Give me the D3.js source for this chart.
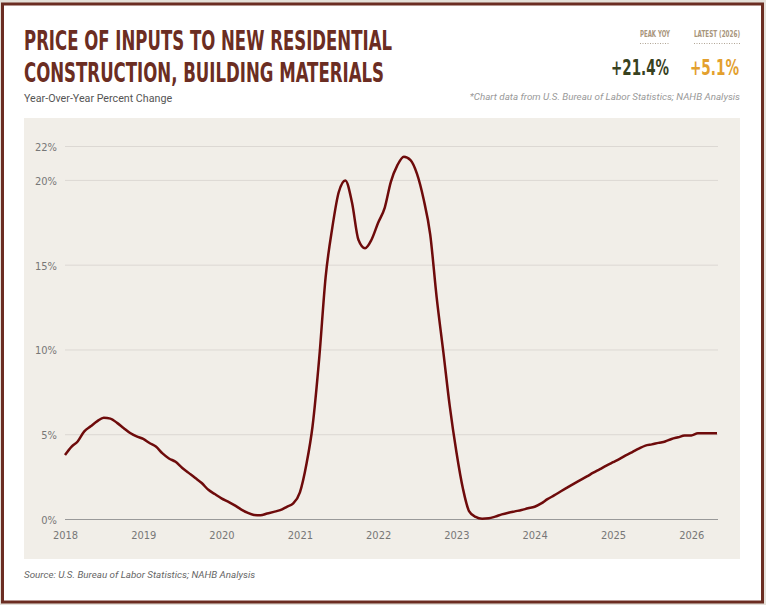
<!DOCTYPE html>
<html>
<head>
<meta charset="utf-8">
<script src="https://cdn.jsdelivr.net/npm/d3@7"></script>
<style>
  html, body { margin: 0; padding: 0; background: #e4e0d9; }
  svg { display: block; }
</style>
</head>
<body>
<div id="viz"></div>
<script>
// Monthly year-over-year change, Jan 2018 .. May 2026
var startMonth = "2018-01";
var yoyValues = [
  3.8, 4.3, 4.6, 5.2, 5.5, 5.8, 6.0, 5.95, 5.7, 5.4, 5.1, 4.9,      // 2018
  4.75, 4.5, 4.3, 3.9, 3.6, 3.4, 3.05, 2.75, 2.45, 2.15, 1.75, 1.5, // 2019
  1.25, 1.05, 0.85, 0.6, 0.4, 0.27, 0.25, 0.35, 0.45, 0.55, 0.75, 0.95, // 2020
  1.6, 3.3, 5.5, 9.5, 14.3, 17.2, 19.3, 20.0, 18.7, 16.5, 16.0, 16.5, // 2021
  17.5, 18.4, 19.9, 20.9, 21.4, 21.2, 20.4, 18.9, 16.8, 13.1, 9.9, 6.7, // 2022
  4.0, 1.8, 0.5, 0.15, 0.05, 0.07, 0.17, 0.3, 0.4, 0.48, 0.56, 0.66, // 2023
  0.75, 0.95, 1.2, 1.42, 1.65, 1.88, 2.1, 2.32, 2.54, 2.76, 2.97, 3.18, // 2024
  3.38, 3.58, 3.78, 3.98, 4.18, 4.36, 4.43, 4.52, 4.6, 4.75, 4.85, 4.95, // 2025
  4.96, 5.08, 5.08, 5.08, 5.08                                       // 2026
];
var yTicks = [0, 5, 10, 15, 20, 22];
var xTickYears = [2018, 2019, 2020, 2021, 2022, 2023, 2024, 2025, 2026];
var statLabels = ["PEAK YOY", "LATEST (2026)"];
var statValues = ["+21.4%", "+5.1%"];

var W = 766, H = 605;
var narrow = "'DejaVu Sans Condensed', 'Liberation Sans Narrow', sans-serif";
var body = "Roboto, 'Noto Sans', sans-serif";

var parseMonth = d3.timeParse("%Y-%m");
var t0 = parseMonth(startMonth);
var data = yoyValues.map(function(v, i) {
  return {date: d3.timeMonth.offset(t0, i), value: v};
});

var svg = d3.select("#viz").append("svg")
  .attr("width", W).attr("height", H);

// card + border
svg.append("rect")
  .attr("x", 2.5).attr("y", 4).attr("width", 760).attr("height", 598)
  .attr("fill", "#fff").attr("stroke", "#6b2d22").attr("stroke-width", 3);

// title
var title = svg.append("text")
  .attr("font-family", narrow).attr("font-weight", "bold")
  .attr("font-size", 26).attr("fill", "#6b2d22");
title.append("tspan").attr("x", 24).attr("y", 50)
  .attr("textLength", 368).attr("lengthAdjust", "spacingAndGlyphs")
  .text("PRICE OF INPUTS TO NEW RESIDENTIAL");
title.append("tspan").attr("x", 24).attr("y", 82)
  .attr("textLength", 360).attr("lengthAdjust", "spacingAndGlyphs")
  .text("CONSTRUCTION, BUILDING MATERIALS");

svg.append("text")
  .attr("x", 24).attr("y", 102)
  .attr("font-family", body).attr("font-size", 10.7).attr("fill", "#555")
  .text("Year-Over-Year Percent Change");

// stats top right
var statRight = [670, 740];
var labelWidths = [30, 46];
var valueWidths = [58, 49];
var statColors = ["#38421f", "#e3a02e"];
statLabels.forEach(function(lbl, i) {
  var xr = statRight[i];
  svg.append("text")
    .attr("x", xr - labelWidths[i]).attr("y", 37)
    .attr("textLength", labelWidths[i]).attr("lengthAdjust", "spacingAndGlyphs")
    .attr("font-family", narrow).attr("font-weight", "bold")
    .attr("font-size", 8.5).attr("fill", "#a8957c")
    .text(lbl);
  svg.append("line")
    .attr("x1", xr - labelWidths[i]).attr("x2", xr)
    .attr("y1", 43.5).attr("y2", 43.5)
    .attr("stroke", "#b0a595").attr("stroke-width", 1)
    .attr("stroke-dasharray", "1,1.5");
  svg.append("text")
    .attr("x", xr - 1 - valueWidths[i]).attr("y", 75)
    .attr("textLength", valueWidths[i]).attr("lengthAdjust", "spacingAndGlyphs")
    .attr("font-family", narrow).attr("font-weight", "bold")
    .attr("font-size", 21).attr("fill", statColors[i])
    .text(statValues[i]);
});

svg.append("text")
  .attr("x", 740).attr("y", 100)
  .attr("text-anchor", "end")
  .attr("font-family", body).attr("font-style", "italic")
  .attr("font-size", 9.8).attr("fill", "#999")
  .text("*Chart data from U.S. Bureau of Labor Statistics; NAHB Analysis");

// plot panel
svg.append("rect")
  .attr("x", 24).attr("y", 118).attr("width", 716).attr("height", 441)
  .attr("fill", "#f1eee8");

var x = d3.scaleTime()
  .domain([t0, data[data.length - 1].date])
  .range([65, 717]);
var y = d3.scaleLinear()
  .domain([0, 22])
  .range([519.5, 146.5]);

var g = svg.append("g");

// grid lines
g.selectAll(".grid")
  .data(yTicks.filter(function(d) { return d > 0; }))
  .enter().append("line")
  .attr("x1", 65).attr("x2", 718)
  .attr("y1", function(d) { return y(d); })
  .attr("y2", function(d) { return y(d); })
  .attr("stroke", "#dcd8d3").attr("stroke-width", 1);

// y labels
var yAxis = d3.axisLeft(y).tickValues(yTicks)
  .tickFormat(function(d) { return d + "%"; })
  .tickSize(0).tickPadding(0);
var ya = g.append("g").attr("transform", "translate(57,0)").call(yAxis);
ya.select(".domain").remove();
ya.selectAll("text")
  .attr("font-family", narrow).attr("font-size", 11).attr("fill", "#777")
  .attr("dy", "0.35em");

// x axis
var xAxis = d3.axisBottom(x)
  .tickValues(xTickYears.map(function(yr) { return new Date(yr, 0, 1); }))
  .tickFormat(d3.timeFormat("%Y"))
  .tickSize(0).tickPadding(12);
var xa = g.append("g").attr("transform", "translate(0," + y(0) + ")").call(xAxis);
xa.select(".domain").remove();
xa.selectAll("text")
  .attr("font-family", narrow).attr("font-size", 11).attr("fill", "#777");
g.append("line")
  .attr("x1", 65).attr("x2", 718)
  .attr("y1", y(0)).attr("y2", y(0))
  .attr("stroke", "#999").attr("stroke-width", 1);

// line
var line = d3.line()
  .x(function(d) { return x(d.date); })
  .y(function(d) { return y(d.value); })
  .curve(d3.curveMonotoneX);
g.append("path")
  .datum(data)
  .attr("d", line)
  .attr("fill", "none")
  .attr("stroke", "#6e0b0b")
  .attr("stroke-width", 2.5)
  .attr("stroke-linejoin", "round");

svg.append("text")
  .attr("x", 24).attr("y", 578)
  .attr("font-family", body).attr("font-style", "italic")
  .attr("font-size", 9.8).attr("fill", "#666")
  .text("Source: U.S. Bureau of Labor Statistics; NAHB Analysis");
</script>
</body>
</html>
